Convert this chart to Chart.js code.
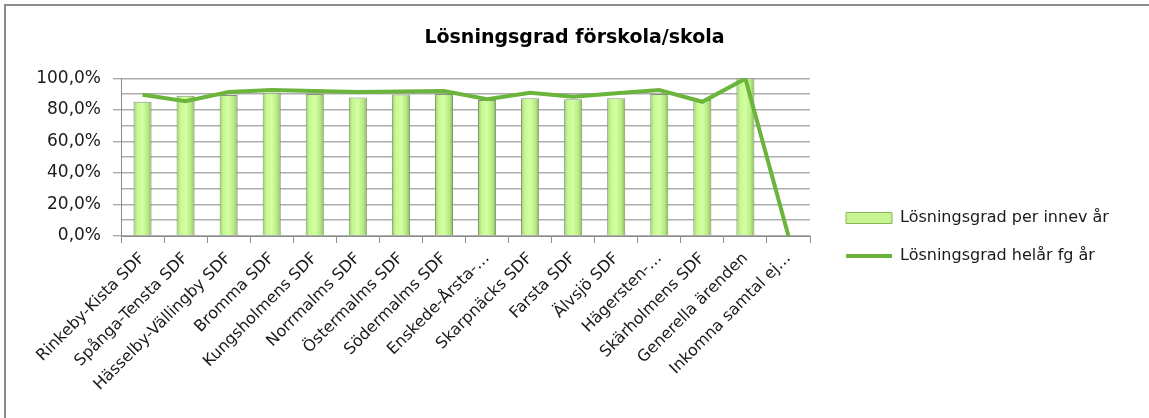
<!DOCTYPE html>
<html>
<head>
<meta charset="utf-8">
<script src="https://cdn.jsdelivr.net/npm/chart.js@4.4.1/dist/chart.umd.min.js"></script>
<style>
  html, body { margin: 0; padding: 0; background: #ffffff; overflow: hidden; }
  #frame { position: absolute; left: 4px; top: 4px; width: 1200px; height: 430px; border: 2px solid #8c8c8c; box-sizing: border-box; }
  #c { position: absolute; left: 0; top: 0; }
</style>
</head>
<body>
<div id="frame"></div>
<canvas id="c" width="1149" height="418"></canvas>
<script>
const chartTitle = 'Lösningsgrad förskola/skola';
const categories = [
  'Rinkeby-Kista SDF', 'Spånga-Tensta SDF', 'Hässelby-Vällingby SDF', 'Bromma SDF',
  'Kungsholmens SDF', 'Norrmalms SDF', 'Östermalms SDF', 'Södermalms SDF',
  'Enskede-Årsta-…', 'Skarpnäcks SDF', 'Farsta SDF', 'Älvsjö SDF',
  'Hägersten-…', 'Skärholmens SDF', 'Generella ärenden', 'Inkomna samtal ej…'
];
const seriesNames = ['Lösningsgrad per innev år', 'Lösningsgrad helår fg år'];
const perInnevAr = [85.1, 88.9, 89.4, 90.9, 90.0, 87.9, 89.8, 90.0, 86.2, 87.3, 86.7, 87.3, 90.0, 86.2, 100, null];
const helarFgAr = [89.6, 85.4, 91.3, 92.6, 91.9, 91.3, 91.7, 91.9, 86.7, 90.9, 88.3, 90.5, 92.6, 85.1, 99.8, 0];
const yTickValues = [0, 20, 40, 60, 80, 100];

const FONT = 'DejaVu Sans';

function barGradient(ctx) {
  const chart = ctx.chart;
  const xs = chart.scales && chart.scales.x;
  if (!xs || ctx.type !== 'data' || !chart.chartArea) return '#c8f592';
  const cx = xs.getPixelForValue(ctx.dataIndex);
  const w = xs.width / categories.length * 0.42;
  if (!isFinite(cx) || !isFinite(w) || w <= 0) return '#c8f592';
  const g = chart.ctx.createLinearGradient(cx - w / 2, 0, cx + w / 2, 0);
  g.addColorStop(0, '#98cf62');
  g.addColorStop(0.2, '#c6f892');
  g.addColorStop(0.5, '#d4ffa3');
  g.addColorStop(0.8, '#b6ea82');
  g.addColorStop(1, '#86b855');
  return g;
}

const boxMover = {
  id: 'boxMover',
  afterLayout(chart) {
    const lg = chart.legend;
    if (lg) {
      const h = lg.bottom - lg.top;
      lg.left = 824; lg.right = 1149; lg.width = 1149 - 824;
      lg.top = 188; lg.bottom = 188 + h;
    }
    const tt = chart.titleBlock;
    if (tt) {
      tt.left = 0; tt.right = 1149; tt.width = 1149;
    }
  }
};

new Chart(document.getElementById('c'), {
  data: {
    labels: categories,
    datasets: [
      {
        type: 'line',
        label: seriesNames[1],
        data: helarFgAr,
        borderColor: '#6bb53c',
        backgroundColor: '#6bb53c',
        borderWidth: 4,
        pointRadius: 0,
        pointHoverRadius: 0,
        pointStyle: 'line',
        tension: 0,
        order: 0
      },
      {
        type: 'bar',
        label: seriesNames[0],
        data: perInnevAr,
        backgroundColor: barGradient,
        borderColor: '#84947a',
        borderWidth: 1,
        barPercentage: 0.42,
        categoryPercentage: 1,
        pointStyle: 'rect',
        order: 1
      }
    ]
  },
  options: {
    responsive: false,
    animation: false,
    events: [],
    layout: { padding: { left: 0, right: 80, top: 0, bottom: 0 } },
    plugins: {
      title: {
        display: true,
        text: chartTitle,
        color: '#000000',
        font: { family: FONT, size: 19, weight: 'bold', lineHeight: 1.2 },
        padding: { top: 27, bottom: 28.5 }
      },
      legend: {
        position: 'right',
        align: 'start',
        maxWidth: 259,
        reverse: true,
        labels: {
          usePointStyle: true,
          pointStyleWidth: 46,
          boxHeight: 11,
          padding: 22,
          color: '#1a1a1a',
          font: { family: FONT, size: 16 },
          generateLabels(chart) {
            const items = Chart.defaults.plugins.legend.labels.generateLabels(chart);
            items.forEach(it => {
              if (it.datasetIndex === 1) {
                it.fillStyle = '#c8f592';
                it.strokeStyle = '#86b855';
                it.lineWidth = 1;
              } else {
                it.strokeStyle = '#6bb53c';
                it.lineWidth = 4;
              }
            });
            return items;
          }
        }
      },
      tooltip: { enabled: false }
    },
    scales: {
      x: {
        type: 'category',
        offset: true,
        grid: {
          offset: true,
          drawOnChartArea: false,
          drawTicks: true,
          tickLength: 7,
          tickColor: '#8c8c8c',
          tickWidth: 1
        },
        border: { display: true, color: '#8c8c8c', width: 1 },
        ticks: {
          autoSkip: false,
          maxRotation: 45,
          minRotation: 45,
          padding: 6,
          color: '#1a1a1a',
          font: { family: FONT, size: 16 }
        },
        afterFit(scale) { scale.height = 182; }
      },
      y: {
        min: 0,
        max: 100,
        ticks: {
          stepSize: 10,
          autoSkip: false,
          padding: 12,
          color: '#1a1a1a',
          font: { family: FONT, size: 17 },
          callback(v) {
            return yTickValues.includes(v) ? v.toFixed(1).replace('.', ',') + '%' : '';
          }
        },
        grid: {
          color: '#adadad',
          lineWidth: 1.5,
          tickLength: 8,
          tickWidth: 1,
          tickColor(ctx) {
            return ctx.tick && yTickValues.includes(ctx.tick.value) ? '#8c8c8c' : 'rgba(0,0,0,0)';
          }
        },
        border: { display: true, color: '#8c8c8c', width: 1 },
        afterFit(scale) { scale.width = 121; }
      }
    }
  },
  plugins: [boxMover]
});
</script>
</body>
</html>
